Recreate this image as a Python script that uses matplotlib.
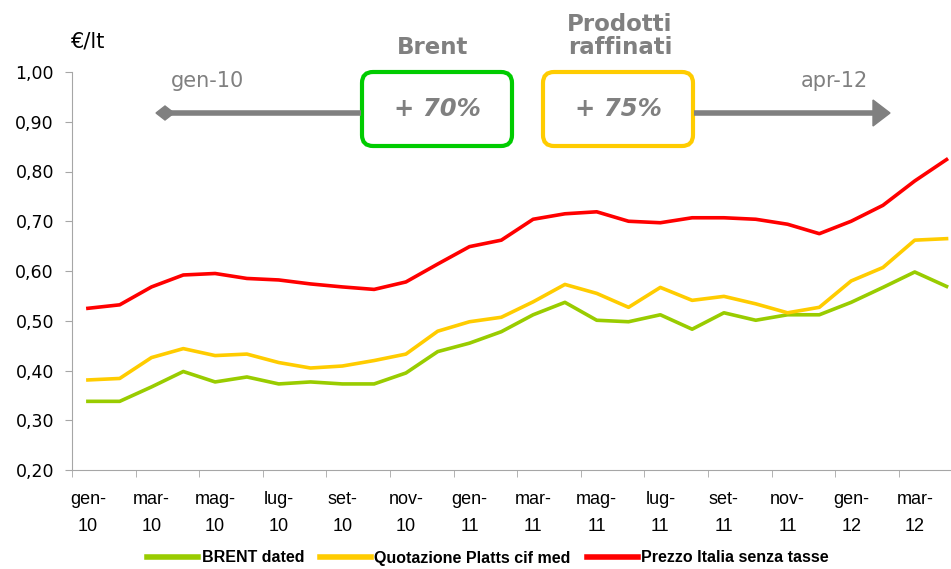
import matplotlib.pyplot as plt
from matplotlib.patches import FancyBboxPatch, Polygon

# Monthly data, gen-10 .. apr-12 (EUR/lt)
months = ['gen-10', 'feb-10', 'mar-10', 'apr-10', 'mag-10', 'giu-10', 'lug-10',
          'ago-10', 'set-10', 'ott-10', 'nov-10', 'dic-10', 'gen-11', 'feb-11',
          'mar-11', 'apr-11', 'mag-11', 'giu-11', 'lug-11', 'ago-11', 'set-11',
          'ott-11', 'nov-11', 'dic-11', 'gen-12', 'feb-12', 'mar-12', 'apr-12']
brent = [0.338, 0.338, 0.367, 0.398, 0.377, 0.387, 0.373, 0.377, 0.373, 0.373,
         0.395, 0.438, 0.455, 0.478, 0.512, 0.537, 0.501, 0.498, 0.512, 0.483,
         0.516, 0.501, 0.512, 0.512, 0.537, 0.567, 0.598, 0.569]
platts = [0.381, 0.384, 0.426, 0.444, 0.430, 0.433, 0.416, 0.405, 0.409, 0.420,
          0.433, 0.479, 0.498, 0.507, 0.538, 0.573, 0.555, 0.527, 0.567, 0.541,
          0.549, 0.534, 0.516, 0.527, 0.580, 0.607, 0.662, 0.665]
italia = [0.525, 0.532, 0.568, 0.592, 0.595, 0.585, 0.582, 0.574, 0.568, 0.563,
          0.578, 0.614, 0.649, 0.662, 0.704, 0.715, 0.719, 0.700, 0.697, 0.707,
          0.707, 0.704, 0.694, 0.675, 0.700, 0.732, 0.781, 0.824]
series_names = ['BRENT dated', 'Quotazione Platts cif med', 'Prezzo Italia senza tasse']
yticks = [0.2, 0.3, 0.4, 0.5, 0.6, 0.7, 0.8, 0.9, 1.0]

GREEN = '#99CC00'
YELLOW = '#FFCC00'
RED = '#FF0000'
GRAY = '#808080'
AXCOL = '#A6A6A6'
W, H = 951, 569

fig = plt.figure(figsize=(W / 100, H / 100), dpi=100)
ax = fig.add_axes([72 / W, 1 - 470 / H, 1 - 72 / W, (470 - 72) / H])

x = list(range(len(months)))
ax.plot(x, brent, color=GREEN, lw=2.6, label=series_names[0], solid_joinstyle='round')
ax.plot(x, platts, color=YELLOW, lw=2.6, label=series_names[1], solid_joinstyle='round')
ax.plot(x, italia, color=RED, lw=2.6, label=series_names[2], solid_joinstyle='round')

ax.set_ylim(0.2, 1.0)
ax.set_xlim(-0.5, 27.14)
ax.set_yticks(yticks)
ax.set_yticklabels([f'{v:.2f}'.replace('.', ',') for v in yticks], fontsize=12.5)

# category labels every 2 months, tick marks between categories
ax.set_xticks(x[::2])
ax.set_xticklabels([m.replace('-', '-\n') for m in months[::2]], fontsize=13,
                   family='Liberation Sans', linespacing=1.75)
ax.tick_params(axis='x', length=0, pad=15)
ax.set_xticks([i - 0.5 for i in x[::2]], minor=True)
ax.tick_params(axis='x', which='minor', length=5, color=AXCOL, direction='out')
ax.tick_params(axis='y', length=5, color=AXCOL, pad=8)

for s in ['top', 'right']:
    ax.spines[s].set_visible(False)
ax.spines['left'].set_color(AXCOL)
ax.spines['bottom'].set_color(AXCOL)

# overlay in pixel units for the annotations above the plot
ov = fig.add_axes([0, 0, 1, 1], zorder=5)
ov.set_xlim(0, W)
ov.set_ylim(H, 0)
ov.axis('off')
ov.patch.set_alpha(0)

ov.text(88, 41, '€/lt', fontsize=15, ha='center', va='center')

# period arrow
ay = 113
ov.plot([165, 361], [ay, ay], color=GRAY, lw=4, solid_capstyle='butt')
ov.plot([694, 876], [ay, ay], color=GRAY, lw=4, solid_capstyle='butt')
ov.add_patch(Polygon([[156, ay], [165, 106], [174, ay], [165, 120]], closed=True, color=GRAY))
ov.add_patch(Polygon([[873, 100], [890, ay], [873, 126]], closed=True, color=GRAY))
ov.text(208, 81, 'gen-10', fontsize=15, color=GRAY, ha='center', va='center')
ov.text(834, 81, 'apr-12', fontsize=15, color=GRAY, ha='center', va='center')

# boxes
for x0, x1, col, pct in [(362, 512, '#00CC00', '+ 70%'), (543, 693, YELLOW, '+ 75%')]:
    ov.add_patch(FancyBboxPatch((x0, 72), x1 - x0, 74,
                                boxstyle='round,pad=0,rounding_size=11',
                                fc='white', ec=col, lw=3))
    ov.text((x0 + x1) / 2, 109, pct, fontsize=17.5, color=GRAY,
            fontweight='bold', style='italic', ha='center', va='center')

ov.text(433, 47, 'Brent', fontsize=16.5, color=GRAY, fontweight='bold',
        ha='center', va='center')
ov.text(620, 36, 'Prodotti\nraffinati', fontsize=16.5, color=GRAY,
        fontweight='bold', ha='center', va='center', linespacing=1.05)

leg = fig.legend(loc='center', bbox_to_anchor=(488 / W, 1 - 558 / H), ncol=3, frameon=False,
                 prop={'family': 'Liberation Sans', 'weight': 'bold', 'size': 11.5},
                 handlelength=3.2, handletextpad=0.2, columnspacing=1.0)
for h in leg.get_lines():
    h.set_linewidth(4)

fig.savefig('out.png', dpi=100)
